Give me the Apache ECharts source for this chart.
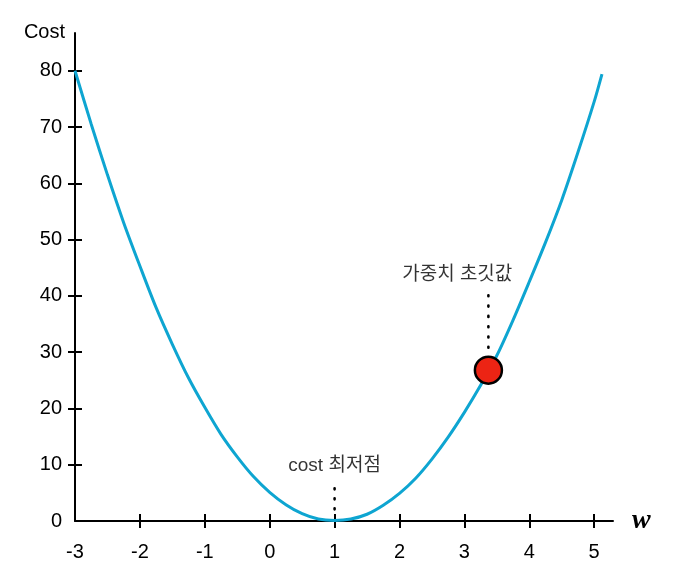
<!DOCTYPE html>
<html>
<head>
<meta charset="utf-8">
<script src="https://cdn.jsdelivr.net/npm/echarts@6/dist/echarts.min.js"></script>
<style>html,body{margin:0;padding:0;background:#fff}#c{width:677px;height:587px}</style>
</head>
<body>
<div id="c"></div>
<script>
// Curve values
const wValues    = [-3, -2.75, -2.5, -2.25, -2, -1.75, -1.5, -1.25, -1, -0.75, -0.5, -0.25, 0, 0.25, 0.5, 0.75, 1, 1.25, 1.5, 1.75, 2, 2.25, 2.5, 2.75, 3, 3.25, 3.5, 3.75, 4, 4.25, 4.5, 4.75, 5, 5.12];
const costValues = [80, 70.5, 61.5, 53.0, 45.3, 37.9, 31.4, 25.4, 20.2, 15.4, 11.4, 7.9, 5.1, 2.9, 1.3, 0.35, 0.1, 0.35, 1.2, 2.8, 4.9, 7.6, 11.0, 14.9, 19.3, 24.1, 29.4, 35.7, 42.5, 49.5, 57.0, 65.5, 74.5, 79.4];
// initial weight point
const initPoint = [3.37, 26.8];
// annotations
const minDotsW = [1, 1];
const minDotsCost = [5.8, 1.9];
const initDotsW = [3.37, 3.37];
const initDotsCost = [40.1, 30.6];
const minLabel = {w: 1, cost: 9.9, text: 'cost 최저점'};
const initLabel = {w: 2.89, cost: 43.7, text: '가중치 초깃값'};
// ticks
const xTicks = [-3, -2, -1, 0, 1, 2, 3, 4, 5];
const xTickMarks = [-2, -1, 0, 1, 2, 3, 4, 5];
const yTicks = [0, 10, 20, 30, 40, 50, 60, 70, 80];
const yTickMarks = [10, 20, 30, 40, 50, 60, 70, 80];

const chart = echarts.init(document.getElementById('c'));
const font = '"Liberation Sans", Arial, sans-serif';
const kfont = '"Liberation Sans", "Noto Sans CJK KR", sans-serif';
const XMIN = -3, XMAX = 5.29, YMIN = 0, YMAX = 86.7;

const baseX = {
  type: 'value', min: XMIN, max: XMAX, splitLine: {show: false}
};
const baseY = {
  type: 'value', min: YMIN, max: YMAX, splitLine: {show: false}
};

chart.setOption({
  animation: false,
  backgroundColor: '#fff',
  grid: {left: 75, right: 64, top: 33, bottom: 66, containLabel: false},
  xAxis: [
    Object.assign({}, baseX, {
      name: 'w', nameLocation: 'end', nameGap: 19,
      nameTextStyle: {fontFamily: '"Liberation Serif", "DejaVu Serif", serif', fontStyle: 'italic', fontWeight: 'bold', fontSize: 28, color: '#000', verticalAlign: 'middle', padding: [0,0,6,0]},
      axisLine: {show: true, onZero: false, lineStyle: {color: '#000', width: 2}},
      axisTick: {show: true, customValues: xTickMarks, length: 7, lineStyle: {color: '#000', width: 2}},
      axisLabel: {show: true, customValues: xTicks, margin: 21, fontSize: 20, color: '#000', fontFamily: font}
    }),
    Object.assign({}, baseX, {
      position: 'bottom',
      axisLine: {show: false, onZero: false},
      axisTick: {show: true, inside: true, customValues: xTickMarks, length: 7, lineStyle: {color: '#000', width: 2}},
      axisLabel: {show: false}
    })
  ],
  yAxis: [
    Object.assign({}, baseY, {
      name: 'Cost', nameLocation: 'end', nameGap: 1,
      nameTextStyle: {fontSize: 20, color: '#000', fontFamily: font, align: 'right', verticalAlign: 'middle', padding: [0, 10, 0, 0]},
      axisLine: {show: true, onZero: false, lineStyle: {color: '#000', width: 2}},
      axisTick: {show: true, customValues: yTickMarks, length: 7, lineStyle: {color: '#000', width: 2}},
      axisLabel: {show: true, customValues: yTicks, margin: 13, fontSize: 20, color: '#000', fontFamily: font}
    }),
    Object.assign({}, baseY, {
      position: 'left',
      axisLine: {show: false, onZero: false},
      axisTick: {show: true, inside: true, customValues: yTickMarks, length: 7, lineStyle: {color: '#000', width: 2}},
      axisLabel: {show: false}
    })
  ],
  series: [
    {
      type: 'line', smooth: 0.3, symbol: 'none',
      data: wValues.map((w, i) => [w, costValues[i]]),
      lineStyle: {color: '#0ea5d1', width: 3}, z: 2
    },
    {
      type: 'line', symbol: 'none',
      data: minDotsW.map((w, i) => [w, minDotsCost[i]]),
      lineStyle: {color: '#000', width: 2.6, type: [1, 9], cap: 'round'}, z: 3
    },
    {
      type: 'line', symbol: 'none',
      data: initDotsW.map((w, i) => [w, initDotsCost[i]]),
      lineStyle: {color: '#000', width: 2.6, type: [1, 9.3], cap: 'round'}, z: 3
    },
    {
      type: 'scatter', symbol: 'circle', symbolSize: 27,
      data: [initPoint],
      itemStyle: {color: '#ec2414', borderColor: '#000', borderWidth: 2.5, opacity: 1}, z: 5
    },
    {
      type: 'scatter', symbolSize: 0, silent: true,
      data: [
        {value: [minLabel.w, minLabel.cost], label: {formatter: minLabel.text}},
        {value: [initLabel.w, initLabel.cost], label: {formatter: initLabel.text}}
      ],
      label: {show: true, position: 'inside', color: '#000', fontSize: 19, fontFamily: kfont},
      z: 6
    }
  ]
});
</script>
</body>
</html>
